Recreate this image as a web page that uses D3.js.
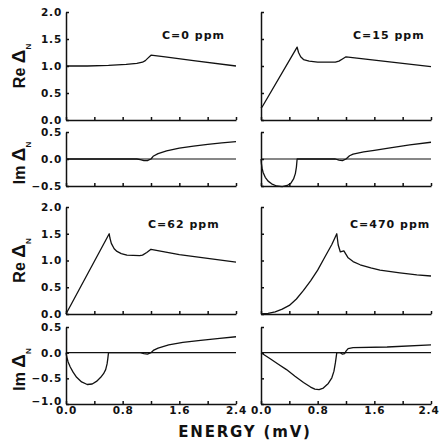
<!DOCTYPE html>
<html>
<head>
<meta charset="utf-8">
<script src="https://cdn.jsdelivr.net/npm/d3@7"></script>
<style>
  body { margin: 0; background: #fff; }
  svg { display: block; }
  .axis path, .axis line { stroke: #111; stroke-width: 1.5; }
  .axis text { font-family: "DejaVu Sans", sans-serif; font-weight: bold; font-size: 10.5px; letter-spacing: 0.8px; fill: #111; }
  .curve { fill: none; stroke: #111; stroke-width: 1.3; stroke-linejoin: round; }
  .zero { stroke: #111; stroke-width: 1.2; }
  .lbl { font-family: "DejaVu Sans", sans-serif; font-weight: bold; fill: #111; }
</style>
</head>
<body>
<svg id="chart" width="440" height="445"></svg>
<script>
// tick values
const energyTicks = [0, 0.4, 0.8, 1.2, 1.6, 2.0, 2.4];
const energyLabels = [0, 0.8, 1.6, 2.4];
const reTicks = [0, 0.5, 1.0, 1.5, 2.0];
const imTicksTop = [-0.5, 0, 0.5];
const imTicksBottom = [-1.0, -0.5, 0, 0.5];
const concLabels = ["C=0 ppm", "C=15 ppm", "C=62 ppm", "C=470 ppm"];

// C = 0 ppm
const reE0 = [0, 0.3, 0.6, 0.85, 1.0, 1.08, 1.12, 1.16, 1.2, 1.4, 1.8, 2.4];
const reV0 = [1.0, 1.0, 1.01, 1.03, 1.05, 1.07, 1.1, 1.15, 1.2, 1.17, 1.1, 1.0];
const imE0 = [0, 1.0, 1.05, 1.1, 1.15, 1.18, 1.2, 1.23, 1.3, 1.42, 1.6, 1.8, 2.0, 2.2, 2.4];
const imV0 = [0, 0, -0.01, -0.03, -0.03, -0.01, 0, 0.05, 0.1, 0.15, 0.2, 0.24, 0.27, 0.3, 0.32];

// C = 15 ppm
const reE1 = [0, 0.02, 0.51, 0.53, 0.56, 0.6, 0.68, 0.8, 1.05, 1.1, 1.15, 1.2, 1.6, 2.0, 2.4];
const reV1 = [0.22, 0.25, 1.35, 1.25, 1.17, 1.12, 1.09, 1.07, 1.07, 1.09, 1.13, 1.17, 1.11, 1.05, 0.99];
const imE1 = [0, 0.005, 0.015, 0.03, 0.06, 0.1, 0.15, 0.22, 0.3, 0.37, 0.42, 0.46, 0.485, 0.5, 0.51,
    1.05, 1.1, 1.15, 1.2, 1.25, 1.3, 1.45, 1.6, 1.8, 2.1, 2.4];
const imV1 = [0, -0.08, -0.17, -0.25, -0.34, -0.41, -0.46, -0.5, -0.51, -0.49, -0.45, -0.37, -0.27, -0.15, 0,
    0, -0.02, -0.03, 0, 0.06, 0.09, 0.13, 0.16, 0.2, 0.26, 0.31];

// C = 62 ppm
const reE2 = [0, 0.61, 0.62, 0.64, 0.68, 0.72, 0.78, 0.86, 1.04, 1.08, 1.14, 1.2, 1.6, 2.0, 2.4];
const reV2 = [0, 1.5, 1.42, 1.32, 1.22, 1.17, 1.13, 1.1, 1.09, 1.1, 1.15, 1.21, 1.11, 1.04, 0.97];
const imE2 = [0, 0.01, 0.03, 0.06, 0.1, 0.15, 0.22, 0.3, 0.37, 0.43, 0.49, 0.53, 0.56, 0.58, 0.59, 0.6,
    1.05, 1.1, 1.15, 1.2, 1.24, 1.3, 1.45, 1.65, 1.9, 2.17, 2.4];
const imV2 = [0, -0.08, -0.18, -0.28, -0.38, -0.48, -0.57, -0.62, -0.61, -0.56, -0.48, -0.41, -0.33, -0.22, -0.12, 0,
    0, -0.02, -0.03, 0, 0.05, 0.09, 0.15, 0.2, 0.24, 0.28, 0.31];

// C = 470 ppm
const reE3 = [0, 0.1, 0.2, 0.3, 0.4, 0.5, 0.6, 0.7, 0.8, 0.9, 1.0, 1.07, 1.09, 1.12, 1.17, 1.23, 1.3, 1.4, 1.55, 1.68, 1.96, 2.2, 2.4];
const reV3 = [0, 0.01, 0.04, 0.09, 0.16, 0.28, 0.44, 0.62, 0.82, 1.06, 1.3, 1.5, 1.29, 1.16, 1.18, 1.05, 0.98, 0.92, 0.86, 0.82, 0.77, 0.73, 0.71];
const imE3 = [0, 0.13, 0.25, 0.36, 0.48, 0.6, 0.7, 0.76, 0.82, 0.88, 0.95, 1.0, 1.03, 1.05, 1.06, 1.07,
    1.12, 1.15, 1.18, 1.2, 1.23, 1.3, 1.78, 2.4];
const imV3 = [0, -0.12, -0.23, -0.33, -0.46, -0.58, -0.67, -0.71, -0.72, -0.69, -0.6, -0.49, -0.36, -0.2, -0.1, 0,
    0, -0.03, -0.02, 0.03, 0.08, 0.1, 0.11, 0.15];

const svg = d3.select("#chart");

const cols = [{ x0: 66, x1: 236 }, { x0: 261, x1: 431 }];
const rows = [
    { re: [120, 12], im: [186, 132], imDom: [-0.5, 0.5], imTicks: imTicksTop },
    { re: [314, 207], im: [404, 327], imDom: [-1.0, 0.5], imTicks: imTicksBottom }
];

const panels = [
    { row: 0, col: 0, label: concLabels[0], reE: reE0, reV: reV0, imE: imE0, imV: imV0, lx: 162, ly: 39 },
    { row: 0, col: 1, label: concLabels[1], reE: reE1, reV: reV1, imE: imE1, imV: imV1, lx: 353, ly: 39 },
    { row: 1, col: 0, label: concLabels[2], reE: reE2, reV: reV2, imE: imE2, imV: imV2, lx: 148, ly: 228 },
    { row: 1, col: 1, label: concLabels[3], reE: reE3, reV: reV3, imE: imE3, imV: imV3, lx: 350, ly: 228 }
];

const fmt = d3.format(".1f");

panels.forEach(p => {
    const c = cols[p.col], r = rows[p.row];
    const x = d3.scaleLinear().domain([0, 2.4]).range([c.x0, c.x1]);
    const yRe = d3.scaleLinear().domain([0, 2]).range(r.re);
    const yIm = d3.scaleLinear().domain(r.imDom).range(r.im);
    const showY = p.col === 0;
    const showX = p.row === 1;

    // Re panel axes
    svg.append("g").attr("class", "axis")
        .attr("transform", `translate(0,${yRe(0)})`)
        .call(d3.axisBottom(x).tickValues(energyTicks).tickSize(-3).tickSizeOuter(0).tickFormat(""));
    svg.append("g").attr("class", "axis")
        .attr("transform", `translate(${c.x0},0)`)
        .call(d3.axisLeft(yRe).tickValues(reTicks).tickSize(-3).tickSizeOuter(0).tickPadding(4)
            .tickFormat(d => showY ? fmt(d) : ""));

    // Im panel axes
    const xAxis = svg.append("g").attr("class", "axis")
        .attr("transform", `translate(0,${yIm(r.imDom[0])})`)
        .call(d3.axisBottom(x).tickValues(energyTicks).tickSize(-3).tickSizeOuter(0).tickPadding(3)
            .tickFormat(d => showX && energyLabels.includes(d) ? fmt(d) : ""));
    // keep the last energy label inside the picture
    if (showX && p.col === 1) {
        xAxis.selectAll(".tick text").filter(d => d === 2.4)
            .attr("text-anchor", "end").attr("x", 8);
    }
    const imAxis = svg.append("g").attr("class", "axis")
        .attr("transform", `translate(${c.x0},0)`)
        .call(d3.axisLeft(yIm).tickValues(r.imTicks).tickSize(-3).tickSizeOuter(0).tickPadding(4)
            .tickFormat(d => showY ? fmt(d) : ""));
    // lift the lowest label a little so it clears the energy labels
    if (showX) imAxis.selectAll(".tick text").filter(d => d === r.imDom[0]).attr("dy", "0.05em");

    svg.selectAll(".domain").attr("fill", "none");

    // zero reference line in Im panel
    svg.append("line").attr("class", "zero")
        .attr("x1", x(0)).attr("x2", x(2.4))
        .attr("y1", yIm(0)).attr("y2", yIm(0));

    const reLine = d3.line().x(d => x(d[0])).y(d => yRe(d[1]));
    const imLine = d3.line().x(d => x(d[0])).y(d => yIm(d[1]));

    svg.append("path").attr("class", "curve")
        .attr("d", reLine(d3.zip(p.reE, p.reV)));
    svg.append("path").attr("class", "curve")
        .attr("d", imLine(d3.zip(p.imE, p.imV)));

    svg.append("text").attr("class", "lbl")
        .attr("x", p.lx).attr("y", p.ly)
        .style("font-size", "11px").style("letter-spacing", "1px")
        .text(p.label);

    // y axis titles
    if (showY) {
        [["Re", (r.re[0] + r.re[1]) / 2], ["Im", (r.im[0] + r.im[1]) / 2 + 4]].forEach(([name, cy]) => {
            const t = svg.append("text").attr("class", "lbl")
                .attr("transform", `translate(25,${cy}) rotate(-90)`)
                .attr("text-anchor", "middle")
                .style("font-family", "'Liberation Sans', Arial, sans-serif")
                .style("font-size", "16px");
            t.append("tspan").text(name + " ");
            t.append("tspan").style("font-size", "19px").text("Δ");
            t.append("tspan").attr("dy", 6).style("font-size", "8px").text("N");
        });
    }
});

svg.append("text").attr("class", "lbl")
    .attr("x", 245).attr("y", 437)
    .attr("text-anchor", "middle")
    .style("font-size", "15px").style("letter-spacing", "1.8px")
    .text("ENERGY (mV)");
</script>
</body>
</html>
